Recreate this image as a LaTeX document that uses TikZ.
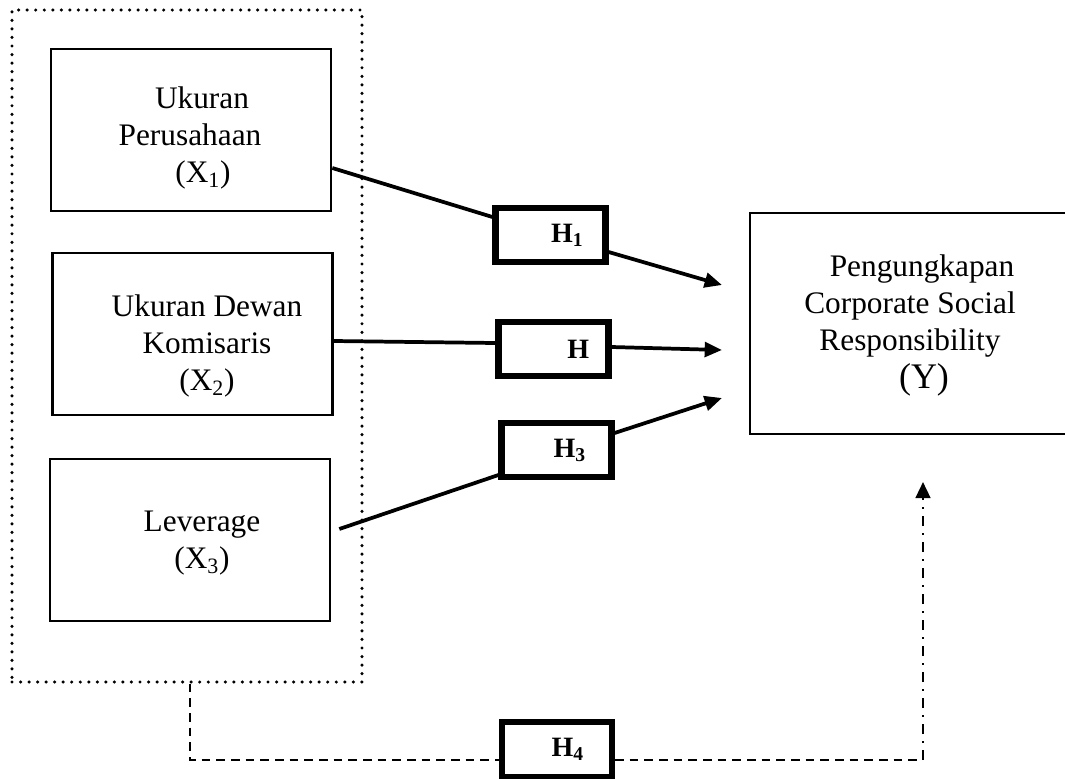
\documentclass[tikz,border=0pt]{standalone}
\usepackage{fontspec}
\setmainfont{Liberation Serif}
\usetikzlibrary{arrows.meta,calc}
\begin{document}
\begin{tikzpicture}[x=0.75pt,y=-0.75pt,
  vbox/.style={draw,line width=2pt,minimum width=210pt,minimum height=121.5pt,inner sep=0pt},
  hbox/.style={draw,line width=4.6pt,minimum width=82.5pt,minimum height=41pt,inner sep=0pt,font=\fontsize{21}{24}\selectfont\bfseries},
  txt/.style={align=center,font=\fontsize{23.5}{28}\selectfont,inner sep=0pt},
  conn/.style={line width=2.8pt},
  arr/.style={conn,-{Triangle[length=13pt,width=11pt]}},
  dotbox/.style={draw,line width=2.6pt,dash pattern=on 0pt off 6.4pt,line cap=round,inner sep=0pt},
  dashline/.style={line width=1.8pt,dash pattern=on 6.5pt off 4.5pt},
  dashdot/.style={line width=1.8pt,dash pattern=on 7.5pt off 5.5pt on 1pt off 5.5pt,-{Triangle[length=12pt,width=11pt]}}
]
\useasboundingbox (0,0) rectangle (1065,779);

% group box
\node[dotbox,minimum width=262.5pt,minimum height=504pt] (grp) at (187,346) {};

% independent variable boxes
\node[vbox] (x1) at (191,130) {};
\node[vbox] (x2) at (192.5,334) {};
\node[vbox] (x3) at (190,540) {};
\node[txt] (x1t) at (190,138) {\hspace*{18pt}Ukuran\\Perusahaan\\\hspace*{19.5pt}(X\textsubscript{1})};
\node[txt] (x2t) at (207,346) {Ukuran Dewan\\Komisaris\hspace*{21pt}\\(X\textsubscript{2})};
\node[txt] (x3t) at (202,543) {Leverage\\(X\textsubscript{3})};

% dependent variable box
\node[draw,line width=2pt,minimum width=247.5pt,minimum height=165.75pt,inner sep=0pt] (y) at (915,323.5) {};
\node[txt] (yt) at (910,325) {\hspace*{18pt}Pengungkapan\\Corporate Social\\Responsibility\\\hspace*{21pt}{\fontsize{27}{30}\selectfont(Y)}};

% hypothesis boxes
\node[hbox] (h1) at (550.5,235) {\hspace*{25pt}H\textsubscript{1}};
\node[hbox] (h2) at (553.5,349) {\hspace*{37pt}H};
\node[hbox] (h3) at (556.5,450) {\hspace*{20pt}H\textsubscript{3}};
\node[hbox] (h4) at (557,749.5) {\hspace*{16pt}H\textsubscript{4}};

% free ends
\coordinate (t1) at (722,285);
\coordinate (t2) at (722,350);
\coordinate (t3) at (722,398);
\coordinate (d1) at (190,760);
\coordinate (d2) at (923,760);
\coordinate (a4) at (923,482);

% connectors
\draw[conn] ($(x1.east)+(0,38)$) -- ($(h1.west)+(0,-18)$);
\draw[arr] ($(h1.east)+(0,17)$) -- (t1);
\draw[conn] ($(x2.east)+(0,7)$) -- ($(h2.west)+(0,-6)$);
\draw[arr] ($(h2.east)+(0,-2)$) -- (t2);
\draw[conn] ($(x3.east)+(8,-11)$) -- ($(h3.west)+(0,25)$);
\draw[arr] ($(h3.east)+(0,-17)$) -- (t3);

\draw[dashline] (grp.south -| d1) -- (d1) -- (d1 -| h4.west);
\draw[dashline] (d1 -| h4.east) -- (d2);
\draw[dashdot] (d2) -- (a4);
\end{tikzpicture}
\end{document}
